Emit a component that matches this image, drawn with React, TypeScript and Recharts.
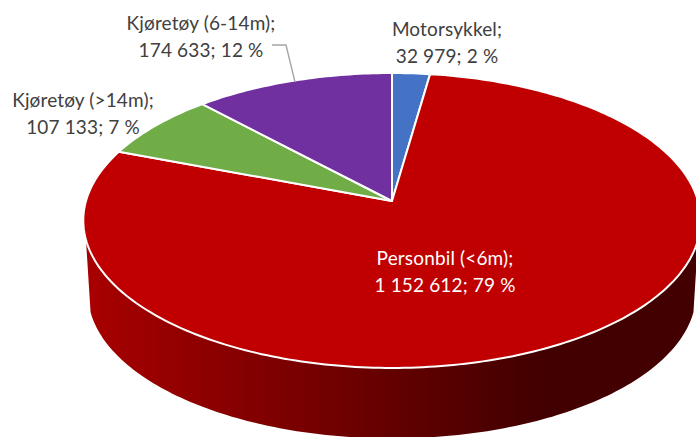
import React from "react";
import { PieChart, Pie } from "recharts";

const categories = ["Motorsykkel", "Personbil (<6m)", "Kjøretøy (>14m)", "Kjøretøy (6-14m)"];
const vehicleCounts = [32979, 1152612, 107133, 174633];
const sliceColors = ["#4472c4", "#c00000", "#70ad47", "#7030a0"];
const labelColors = ["#404040", "#ffffff", "#404040", "#404040"];
const labelCenters = [
  [447, 28],
  [445, 257],
  [83, 99],
  [201, 22],
];

const tableRows = categories.map((name, i) => ({
  name,
  value: vehicleCounts[i],
  fill: sliceColors[i],
  labelColor: labelColors[i],
}));

const WIDTH = 696;
const HEIGHT = 437;
const APEX_X = 392;
const APEX_Y = 201;
const RADIUS = 306;
const FLATTEN = 0.4735;
const PERSPECTIVE = 0.132;
const WALL_DROP = 73;
const WALL_SCALE = 0.985;
const WALL_LEFT_ANGLE = 195;
const WALL_RIGHT_ANGLE = -15;

const project = (cx: number, cy: number, r: number, deg: number) => {
  const a = (deg * Math.PI) / 180;
  const u = Math.cos(a);
  const v = -Math.sin(a);
  const w = 1 - PERSPECTIVE * v;
  return [cx + (r * u) / w, cy + (r * FLATTEN * v) / w];
};

const arcPoints = (cx: number, cy: number, r: number, from: number, to: number) => {
  const steps = Math.max(2, Math.ceil(Math.abs(from - to)));
  const pts: number[][] = [];
  for (let i = 0; i <= steps; i++) {
    pts.push(project(cx, cy, r, from + ((to - from) * i) / steps));
  }
  return pts;
};

const toPath = (pts: number[][]) =>
  pts.map((p, i) => `${i ? "L" : "M"}${p[0].toFixed(2)},${p[1].toFixed(2)}`).join("");

const TopSlice = (props: any) => {
  const { cx, cy, outerRadius, startAngle, endAngle, fill } = props;
  const d = toPath([[cx, cy], ...arcPoints(cx, cy, outerRadius, startAngle, endAngle)]) + "Z";
  return <path d={d} fill={fill} stroke="#ffffff" strokeWidth={2} strokeLinejoin="round" />;
};

const WallSlice = (props: any) => {
  const { cx, cy, outerRadius, startAngle, endAngle, index } = props;
  const lo = Math.max(Math.min(startAngle, endAngle), WALL_LEFT_ANGLE - 360);
  const hi = Math.min(Math.max(startAngle, endAngle), WALL_RIGHT_ANGLE);
  if (hi <= lo) return <g />;
  const top = arcPoints(cx, cy, outerRadius, hi, lo);
  const bottom = arcPoints(cx, cy + WALL_DROP, outerRadius * WALL_SCALE, lo, hi);
  const id = `wall-${index}`;
  return (
    <g>
      <defs>
        <linearGradient id={id} gradientUnits="userSpaceOnUse" x1={88} y1={0} x2={540} y2={0}>
          <stop offset="0" stopColor="#a80000" />
          <stop offset="1" stopColor="#420000" />
        </linearGradient>
      </defs>
      <path d={toPath([...top, ...bottom]) + "Z"} fill={`url(#${id})`} />
    </g>
  );
};

const groupDigits = (n: number) => String(n).replace(/\B(?=(\d{3})+$)/g, " ");

const renderLabel = (props: any) => {
  const { index, name, value, percent, payload } = props;
  const [x, y] = labelCenters[index];
  const fill = payload?.labelColor ?? labelColors[index];
  return (
    <g key={name}>
      {index === 3 && (
        <path d="M272,45 L286,45 L295,82" fill="none" stroke="#a6a6a6" strokeWidth={1.4} />
      )}
      <text
        textAnchor="middle"
        fontFamily="Lato, sans-serif"
        fontSize={19}
        letterSpacing={0.15}
        fill={fill}
        dominantBaseline="central"
      >
        <tspan x={x} y={y}>{`${name};`}</tspan>
        <tspan x={x} y={y + 26.5}>{`${groupDigits(value)}; ${Math.round(percent * 100)} %`}</tspan>
      </text>
    </g>
  );
};

export default function App() {
  return (
    <div style={{ position: "absolute", left: 0, top: 0, width: WIDTH, height: HEIGHT }}>
      <PieChart width={WIDTH} height={HEIGHT} margin={{ top: 0, right: 0, bottom: 0, left: 0 }}>
        <Pie
          data={tableRows}
          dataKey="value"
          nameKey="name"
          cx={APEX_X}
          cy={APEX_Y}
          outerRadius={RADIUS}
          startAngle={90}
          endAngle={-270}
          stroke="none"
          isAnimationActive={false}
          shape={WallSlice}
        />
        <Pie
          data={tableRows}
          dataKey="value"
          nameKey="name"
          cx={APEX_X}
          cy={APEX_Y}
          outerRadius={RADIUS}
          startAngle={90}
          endAngle={-270}
          isAnimationActive={false}
          shape={TopSlice}
          label={renderLabel}
          labelLine={false}
        />
      </PieChart>
    </div>
  );
}
